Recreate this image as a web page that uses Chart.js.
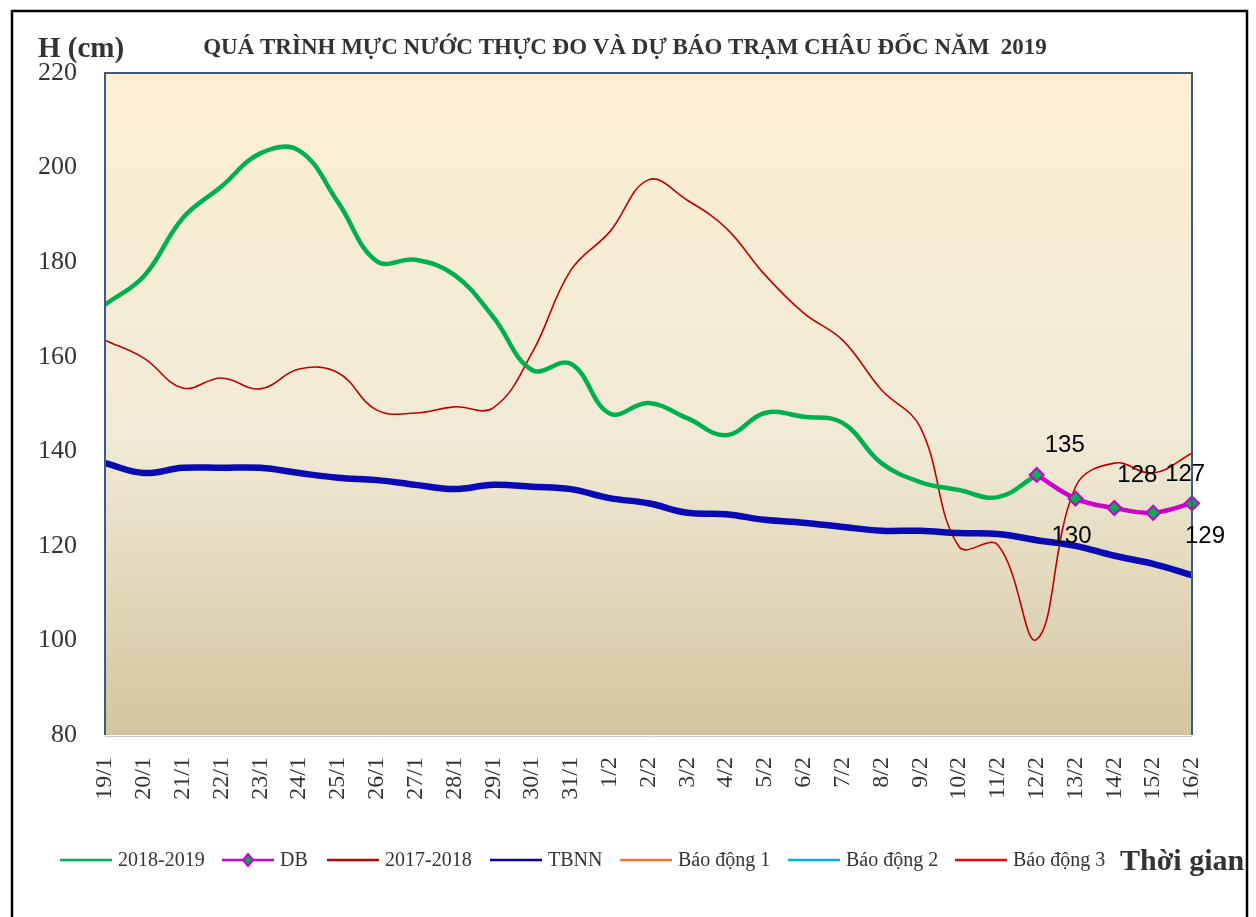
<!DOCTYPE html>
<html>
<head>
<meta charset="utf-8">
<script src="https://cdn.jsdelivr.net/npm/chart.js@4/dist/chart.umd.min.js"></script>
<style>
  html, body { margin: 0; padding: 0; background: #fff; }
  #wrap { width: 1256px; height: 917px; }
</style>
</head>
<body>
<div id="wrap"><canvas id="chart" width="1256" height="917"></canvas></div>
<script>
// ---- du lieu ----
const ngay = ['19/1','20/1','21/1','22/1','23/1','24/1','25/1','26/1','27/1','28/1','29/1','30/1','31/1',
  '1/2','2/2','3/2','4/2','5/2','6/2','7/2','8/2','9/2','10/2','11/2','12/2','13/2','14/2','15/2','16/2'];

const muc2018_2019 = [171, 177, 189.3, 196, 203, 203.6, 192.7, 180.2, 180.5, 177.3, 168.4, 157.2, 158.5,
  148, 150.2, 147, 143.4, 148.1, 147.3, 146, 137.5, 133.5, 131.8, 130.3, 135,
  null, null, null, null];

const mucDB = [null, null, null, null, null, null, null, null, null, null, null, null, null,
  null, null, null, null, null, null, null, null, null, null, null, 135, 130, 128, 127, 129];

const muc2017_2018 = [163.5, 159.7, 153.4, 155.5, 153.2, 157.4, 156.6, 148.7, 148.1, 149.4, 149.2, 160.8, 178.3,
  186.4, 197.4, 193.1, 187.2, 177.3, 169.2, 163.5, 153, 145.1, 119.8, 120.2, 100.2, 132.5, 137.5, 135.4, 139.6];

const mucTBNN = [137.5, 135.4, 136.5, 136.5, 136.5, 135.4, 134.4, 133.9, 132.9, 132, 132.9, 132.5, 132,
  130.1, 129, 127, 126.7, 125.5, 124.9, 124, 123.2, 123.2, 122.7, 122.5, 121.2, 120, 117.9, 116.2, 113.8];

// bao dong: nam ngoai khoang truc, chi hien trong chu giai
const baoDong1 = [];
const baoDong2 = [];
const baoDong3 = [];

const yMin = 80, yMax = 220, yStep = 20;

const chuGiai = [
  { text: '2018-2019', color: '#00B050', x: 60 },
  { text: 'DB', color: '#CC00CC', x: 222, marker: true },
  { text: '2017-2018', color: '#C00000', x: 327 },
  { text: 'TBNN', color: '#0000C0', x: 490 },
  { text: 'Báo động 1', color: '#ED7D31', x: 620 },
  { text: 'Báo động 2', color: '#00B0F0', x: 788 },
  { text: 'Báo động 3', color: '#FF0000', x: 955 }
];

// vi tri nhan so du bao (lech so voi diem)
const lechNhan = [[28, -30], [-4, 38], [23, -33], [32, -38], [13, 33]];

const serif = '"Liberation Serif", "Times New Roman", serif';

const trangTri = {
  id: 'trangTri',
  beforeDraw(chart) {
    const ctx = chart.ctx;
    const a = chart.chartArea;
    ctx.save();
    ctx.fillStyle = '#fff';
    ctx.fillRect(0, 0, chart.width, chart.height);
    const g = ctx.createLinearGradient(0, a.top, 0, a.bottom);
    g.addColorStop(0, '#FDEFD2');
    g.addColorStop(0.55, '#F0EAD6');
    g.addColorStop(1, '#D3C5A0');
    ctx.fillStyle = g;
    ctx.fillRect(a.left, a.top, a.right - a.left, a.bottom - a.top);
    ctx.restore();
  },
  afterDraw(chart) {
    const ctx = chart.ctx;
    const a = chart.chartArea;
    ctx.save();
    // khung vung ve
    ctx.strokeStyle = '#3B5A86';
    ctx.lineWidth = 2;
    ctx.beginPath();
    ctx.moveTo(a.left, a.bottom);
    ctx.lineTo(a.left, a.top);
    ctx.lineTo(a.right, a.top);
    ctx.lineTo(a.right, a.bottom);
    ctx.stroke();
    ctx.strokeStyle = '#C8C8C8';
    ctx.lineWidth = 1;
    ctx.beginPath();
    ctx.moveTo(a.left, a.bottom + 1.5);
    ctx.lineTo(a.right, a.bottom + 1.5);
    ctx.stroke();

    // khung ngoai
    ctx.strokeStyle = '#000';
    ctx.lineWidth = 2.5;
    ctx.strokeRect(12, 11, 1235, 920);

    // tieu de
    ctx.fillStyle = '#333';
    ctx.textBaseline = 'alphabetic';
    ctx.textAlign = 'left';
    ctx.font = 'bold 29px ' + serif;
    ctx.fillText('H (cm)', 38, 57);
    ctx.font = 'bold 23px ' + serif;
    ctx.textAlign = 'center';
    ctx.fillText('QUÁ TRÌNH MỰC NƯỚC THỰC ĐO VÀ DỰ BÁO TRẠM CHÂU ĐỐC NĂM  2019', 625, 54);

    // chu giai
    const ly = 860;
    ctx.textAlign = 'left';
    ctx.textBaseline = 'middle';
    chuGiai.forEach(it => {
      ctx.strokeStyle = it.color;
      ctx.lineWidth = 2.5;
      ctx.beginPath();
      ctx.moveTo(it.x, ly);
      ctx.lineTo(it.x + 52, ly);
      ctx.stroke();
      if (it.marker) {
        const cx = it.x + 26;
        ctx.fillStyle = '#00B050';
        ctx.strokeStyle = it.color;
        ctx.lineWidth = 2;
        ctx.beginPath();
        ctx.moveTo(cx, ly - 6);
        ctx.lineTo(cx + 5, ly);
        ctx.lineTo(cx, ly + 6);
        ctx.lineTo(cx - 5, ly);
        ctx.closePath();
        ctx.fill();
        ctx.stroke();
      }
      ctx.fillStyle = '#333';
      ctx.font = '20px ' + serif;
      ctx.fillText(it.text, it.x + 58, ly + 1);
    });
    ctx.font = 'bold 30px ' + serif;
    ctx.fillStyle = '#333';
    ctx.fillText('Thời gian', 1120, ly + 2);

    // nhan so du bao
    const meta = chart.getDatasetMeta(1);
    ctx.font = '24px "Liberation Sans", Arial, sans-serif';
    ctx.fillStyle = '#000';
    ctx.textAlign = 'center';
    let k = 0;
    meta.data.forEach((p, i) => {
      const v = mucDB[i];
      if (v === null || v === undefined) return;
      const o = lechNhan[k++] || [0, -25];
      ctx.fillText(String(v), p.x + o[0], p.y + o[1]);
    });
    ctx.restore();
  }
};

new Chart(document.getElementById('chart'), {
  type: 'line',
  data: {
    labels: ngay,
    datasets: [
      { label: '2018-2019', data: muc2018_2019, borderColor: '#00B050', borderWidth: 4.5,
        pointRadius: 0, tension: 0.4, order: 2 },
      { label: 'DB', data: mucDB, borderColor: '#CC00CC', borderWidth: 4.5,
        pointStyle: 'rectRot', pointRadius: 7, pointBackgroundColor: '#00B050',
        pointBorderColor: '#CC00CC', pointBorderWidth: 2, tension: 0.4, order: 1 },
      { label: '2017-2018', data: muc2017_2018, borderColor: '#C00000', borderWidth: 1.6,
        pointRadius: 0, tension: 0.4, order: 4 },
      { label: 'TBNN', data: mucTBNN, borderColor: '#0A0AB4', borderWidth: 6.5,
        pointRadius: 0, tension: 0.4, order: 3 },
      { label: 'Báo động 1', data: baoDong1, borderColor: '#ED7D31', borderWidth: 2, pointRadius: 0 },
      { label: 'Báo động 2', data: baoDong2, borderColor: '#00B0F0', borderWidth: 2, pointRadius: 0 },
      { label: 'Báo động 3', data: baoDong3, borderColor: '#FF0000', borderWidth: 2, pointRadius: 0 }
    ]
  },
  options: {
    responsive: false,
    animation: false,
    spanGaps: false,
    layout: { padding: { left: 0, top: 73, right: 64, bottom: 82 } },
    plugins: {
      legend: { display: false },
      tooltip: { enabled: false }
    },
    scales: {
      x: {
        offset: false,
        grid: { display: false },
        border: { display: false },
        ticks: {
          autoSkip: false, maxRotation: 90, minRotation: 90, padding: 14,
          color: '#333', font: { family: serif, size: 24 }
        },
        afterFit(s) { s.height = 100; }
      },
      y: {
        min: yMin, max: yMax,
        grid: { display: false },
        border: { display: false },
        ticks: {
          stepSize: yStep, padding: 20,
          color: '#333', font: { family: serif, size: 26 }
        },
        afterFit(s) { s.width = 105; }
      }
    }
  },
  plugins: [trangTri]
});
</script>
</body>
</html>
